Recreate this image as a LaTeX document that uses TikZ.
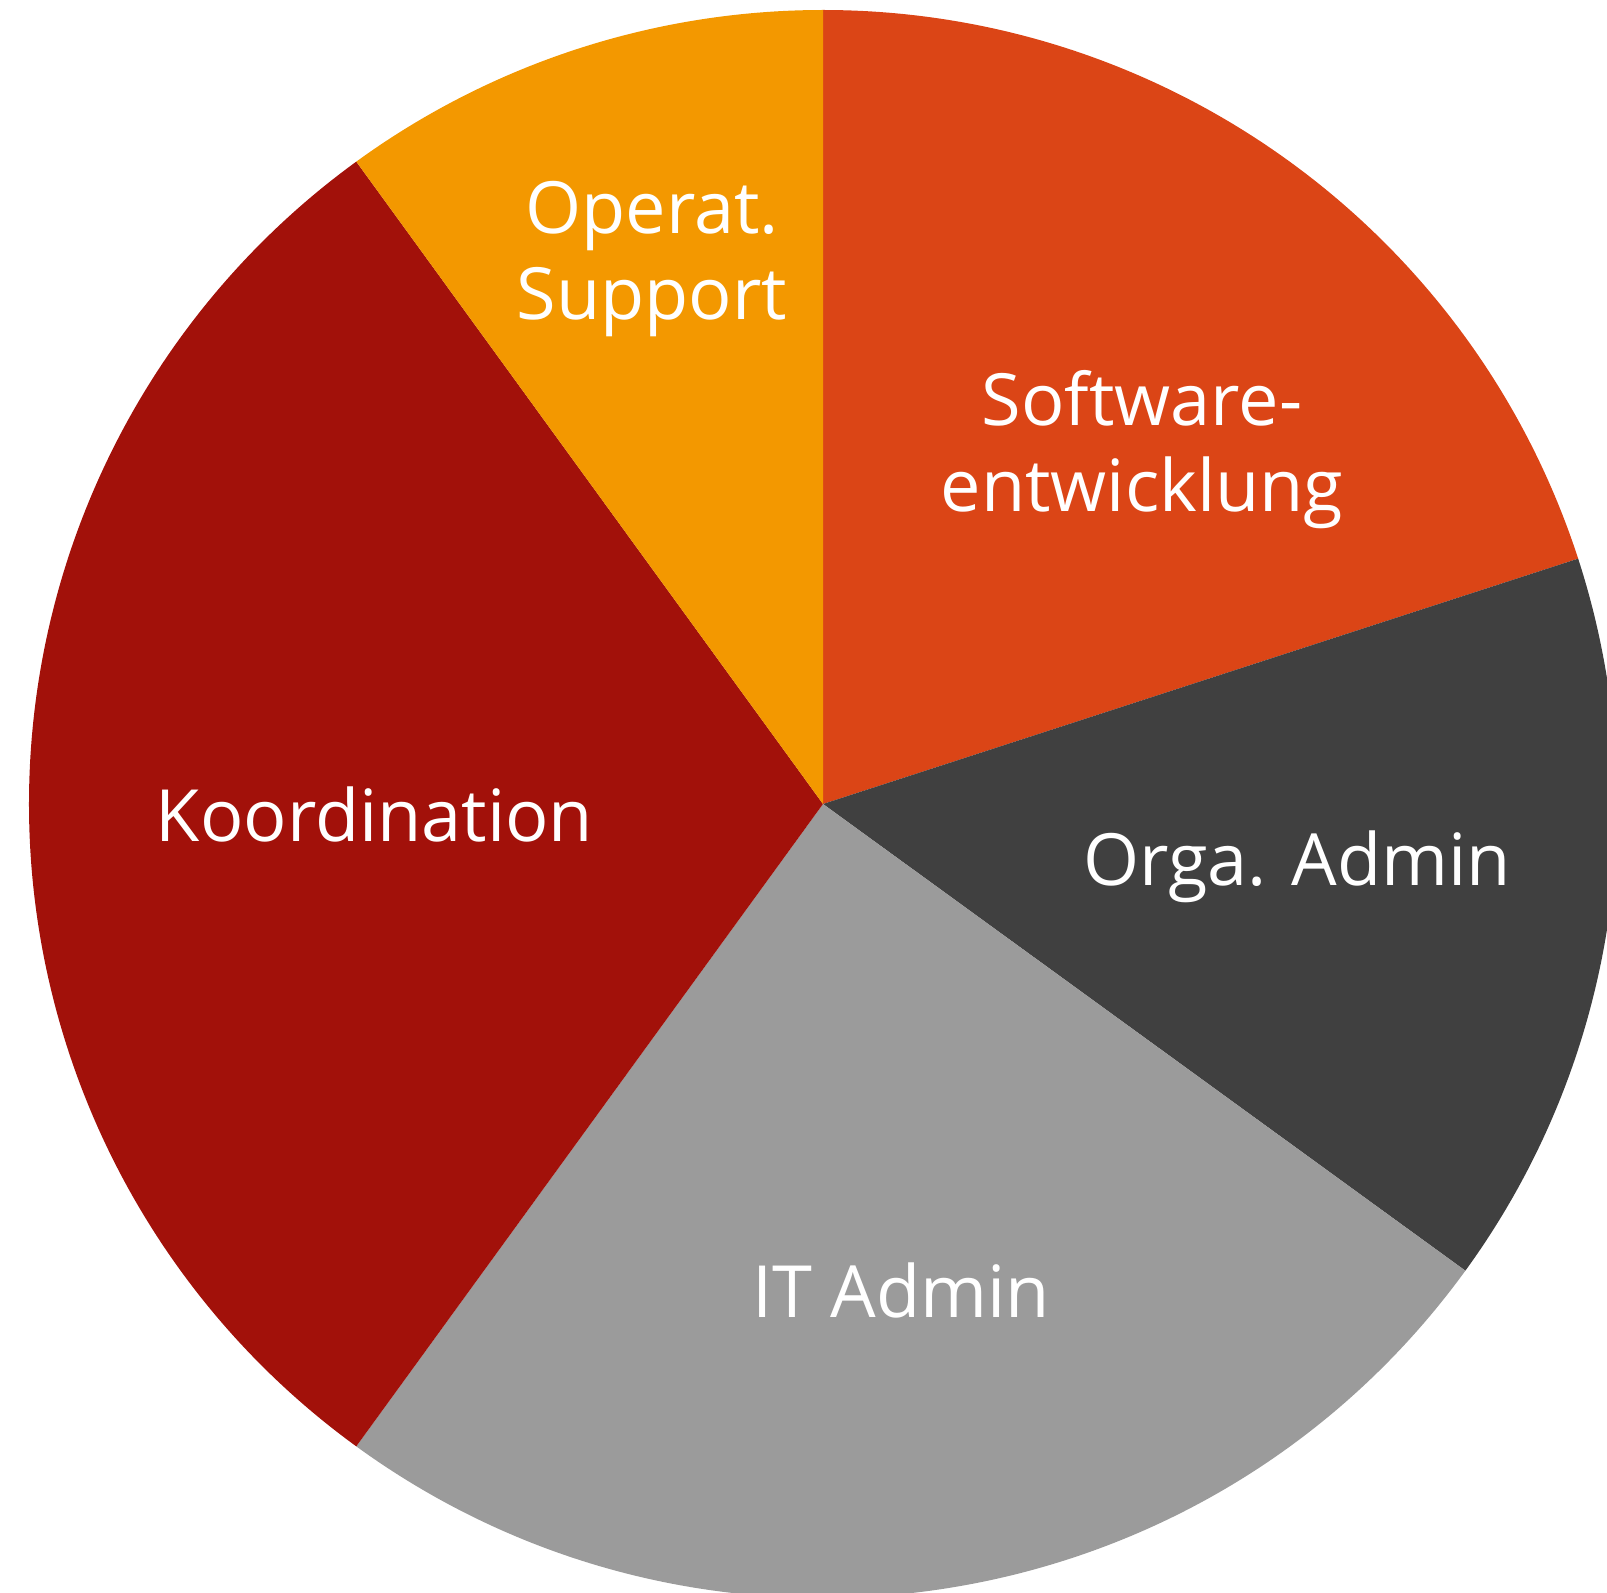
\documentclass[tikz,border=0pt]{standalone}
\usepackage{fontspec}
\setmainfont{Open Sans}
\definecolor{cOper}{HTML}{F39800}
\definecolor{cSoft}{HTML}{DB4516}
\definecolor{cOrga}{HTML}{404040}
\definecolor{cIT}{HTML}{9B9B9B}
\definecolor{cKoord}{HTML}{A2110A}
\begin{document}
\begin{tikzpicture}[
  lbl/.style={text=white, inner sep=0pt, anchor=base, align=center,
    font=\fontsize{20.5}{24.5}\selectfont}
]
\useasboundingbox (0,0) rectangle (16.07,15.92);
\clip (0,0) rectangle (16.07,15.92);
\coordinate (c) at (8.23,7.88);
\def\R{7.94}
\fill[cSoft]  (c) -- ++(90:\R)  arc[start angle=90,  end angle=18,   radius=\R] -- cycle;
\fill[cOrga]  (c) -- ++(18:\R)  arc[start angle=18,  end angle=-36,  radius=\R] -- cycle;
\fill[cIT]    (c) -- ++(-36:\R) arc[start angle=-36, end angle=-126, radius=\R] -- cycle;
\fill[cKoord] (c) -- ++(234:\R) arc[start angle=234, end angle=126,  radius=\R] -- cycle;
\fill[cOper]  (c) -- ++(126:\R) arc[start angle=126, end angle=90,   radius=\R] -- cycle;
\node[lbl] (oper) at (6.52,12.72) {Operat.\\Support};
\node[lbl] (soft) at (11.42,10.80) {Software-\\entwicklung};
\node[lbl] (koord) at (3.745,7.51) {Koordination};
\node[lbl] (orga) at (12.97,7.07) {Orga. Admin};
\node[lbl] (it) at (9.01,2.75) {IT Admin};
\end{tikzpicture}
\end{document}
